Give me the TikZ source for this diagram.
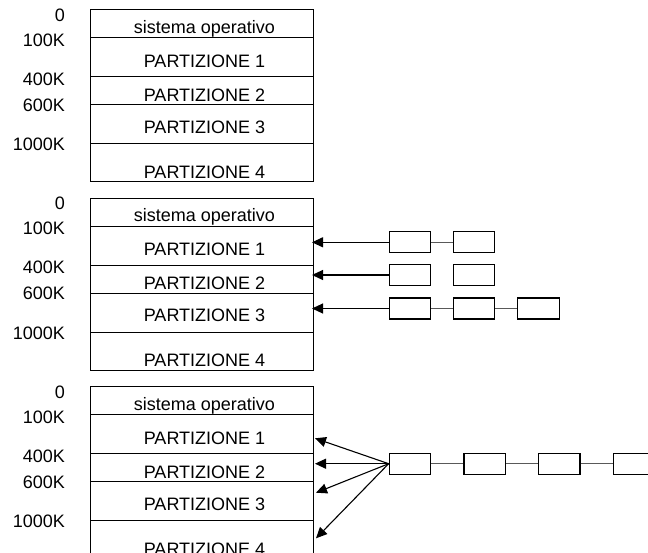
\documentclass[tikz,border=0pt]{standalone}
\usepackage{fontspec}
\setmainfont{Liberation Sans}
\usetikzlibrary{arrows.meta}
\begin{document}
\begin{tikzpicture}[x=1pt,y=-1pt,
  txt/.style={inner sep=0pt,font=\fontsize{18}{20}\selectfont},
  cell/.style={draw,line width=1pt,minimum width=223pt,inner sep=0pt,anchor=north west},
  celltext/.style={txt,anchor=base},
  addr/.style={txt,anchor=base east},
  proc/.style={draw,line width=1.2pt,minimum width=41.5pt,minimum height=21pt,inner sep=0pt,fill=white},
  link/.style={draw=black!65,line width=1.5pt},
  ptr/.style={-{Triangle[length=11pt,width=10pt]},line width=1.1pt}]
\useasboundingbox (0,0) rectangle (648,552);

% three copies of the memory map, stacked
\foreach \b/\o in {1/0,2/188.5,3/377}{
  \foreach \k/\t/\h in {0/9/28,1/37/39,2/76/28,3/104/39,4/143/38}
    \node[cell,minimum height=\h pt] (c\b-\k) at (90,\o+\t) {};
  \node[celltext] (t\b-0) at (204.5,\o+33.3) {sistema operativo};
  \node[celltext] (t\b-1) at (204.5,\o+67.3) {PARTIZIONE 1};
  \node[celltext] (t\b-2) at (204.5,\o+101) {PARTIZIONE 2};
  \node[celltext] (t\b-3) at (204.5,\o+133.3) {PARTIZIONE 3};
  \node[celltext] (t\b-4) at (204.5,\o+178.3) {PARTIZIONE 4};
  \node[addr] (a\b-0) at (65,\o+21.3) {0};
  \node[addr] (a\b-1) at (65,\o+46.3) {100K};
  \node[addr] (a\b-2) at (65,\o+85) {400K};
  \node[addr] (a\b-3) at (65,\o+111) {600K};
  \node[addr] (a\b-4) at (65,\o+150.5) {1000K};
}

% separate queues, one per partition
\node[proc] (r1a) at (410,242.3) {};
\node[proc] (r1b) at (474,242.3) {};
\node[proc] (r2a) at (410,275) {};
\node[proc] (r2b) at (474,275) {};
\node[proc] (r3a) at (410,308.5) {};
\node[proc] (r3b) at (474,308.5) {};
\node[proc] (r3c) at (538.4,308.5) {};
\draw[link] (r1a) -- (r1b);
\draw[link] (r3a) -- (r3b);
\draw[link] (r3b) -- (r3c);
\draw[ptr,shorten >=-2pt] (r1a.west) -- (c2-1.east |- r1a.west);
\draw[ptr,shorten >=-2pt] (r2a.west) -- (c2-2.east |- r2a.west);
\draw[ptr,shorten >=-2pt] (r3a.west) -- (c2-3.east |- r3a.west);

% single shared queue
\node[proc] (q1) at (410,463.7) {};
\node[proc] (q2) at (484.7,463.7) {};
\node[proc] (q3) at (559.3,463.7) {};
\node[proc] (q4) at (634,463.7) {};
\draw[link] (q1) -- (q2);
\draw[link] (q2) -- (q3);
\draw[link] (q3) -- (q4);
\coordinate (h1) at (315,438.3);
\coordinate (h2) at (315,463.7);
\coordinate (h3) at (316,492.7);
\coordinate (h4) at (316,538.3);
\foreach \i in {1,2,3,4}
  \draw[ptr] (q1.west) -- (h\i);
\end{tikzpicture}
\end{document}
